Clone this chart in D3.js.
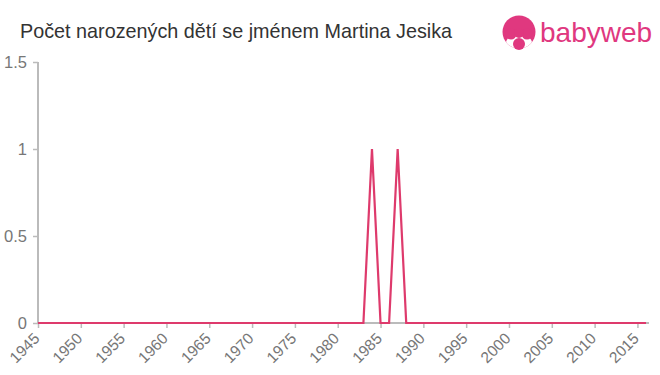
<!DOCTYPE html>
<html>
<head>
<meta charset="utf-8">
<script src="https://cdn.jsdelivr.net/npm/d3@7"></script>
<style>
  body { margin: 0; background: #fff; }
  svg { display: block; font-family: "Liberation Sans", Arial, sans-serif; }
</style>
</head>
<body>
<script>
var svgWidth = 660;
var svgHeight = 375;

// data
var years = d3.range(1945, 2017);
var birthsByYear = { 1984: 1, 1987: 1 };
var counts = years.map(y => birthsByYear[y] || 0);
var xTicks = d3.range(1945, 2016, 5);
var yTicks = [0, 0.5, 1, 1.5];
var yTickLabels = ["0", "0.5", "1", "1.5"];

var data = years.map((y, i) => ({ year: y, value: counts[i] }));

var svg = d3.select("body")
  .append("svg")
  .attr("width", svgWidth)
  .attr("height", svgHeight);

var x = d3.scaleLinear().domain([1945, 2016]).range([38, 646]);
var y = d3.scaleLinear().domain([0, 1.5]).range([323, 62]);

// title
svg.append("text")
  .attr("x", 20)
  .attr("y", 38)
  .style("font-size", "19.8px")
  .style("fill", "#333")
  .text("Počet narozených dětí se jménem Martina Jesika");

// logo
var pink = "#e0387f";
var logo = svg.append("g").attr("transform", "translate(519, 32)");
logo.append("clipPath").attr("id", "head")
  .append("circle").attr("r", 16.5);
logo.append("circle").attr("r", 16.5).attr("fill", pink);
var face = logo.append("g").attr("clip-path", "url(#head)");
face.append("ellipse").attr("cx", 0).attr("cy", 11).attr("rx", 13).attr("ry", 9).attr("fill", "#fff");
face.append("circle").attr("cx", -8).attr("cy", 2).attr("r", 5.5).attr("fill", pink);
face.append("circle").attr("cx", 8).attr("cy", 2).attr("r", 5.5).attr("fill", pink);
face.append("circle").attr("cx", 0).attr("cy", 1).attr("r", 5).attr("fill", pink);
logo.append("circle").attr("cx", 0).attr("cy", 12).attr("r", 6).attr("fill", pink);
logo.append("text")
  .attr("x", 21)
  .attr("y", 10)
  .style("font-size", "28px")
  .style("fill", pink)
  .text("babyweb");

// axes
var axisColor = "#bbb";
var labelColor = "#777";

var leftAxis = d3.axisLeft(y)
  .tickValues(yTicks)
  .tickFormat((d, i) => yTickLabels[i])
  .tickSize(5)
  .tickPadding(6);

var gy = svg.append("g")
  .attr("transform", "translate(38,0)")
  .call(leftAxis);
gy.select(".domain").remove();
gy.append("line")
  .attr("x1", 0).attr("x2", 0)
  .attr("y1", y(1.5)).attr("y2", y(0))
  .attr("stroke", axisColor).attr("stroke-width", 2);
gy.selectAll(".tick line").attr("stroke", axisColor).attr("stroke-width", 1.5);
gy.selectAll(".tick text")
  .style("font-size", "16.5px")
  .style("fill", labelColor)
  .style("font-family", "'Liberation Sans', Arial, sans-serif");

var bottomAxis = d3.axisBottom(x)
  .tickValues(xTicks)
  .tickFormat(d3.format("d"))
  .tickSize(5);

var gx = svg.append("g")
  .attr("transform", "translate(0,323)")
  .call(bottomAxis);
gx.select(".domain").remove();
gx.append("line")
  .attr("x1", 38).attr("x2", 649)
  .attr("y1", 0).attr("y2", 0)
  .attr("stroke", axisColor).attr("stroke-width", 2);
gx.selectAll(".tick line").attr("stroke", axisColor).attr("stroke-width", 1.5);
gx.selectAll(".tick text")
  .style("font-size", "15.5px")
  .style("fill", labelColor)
  .style("font-family", "'Liberation Sans', Arial, sans-serif")
  .attr("text-anchor", "end")
  .attr("y", 0)
  .attr("dy", 0)
  .attr("transform", "translate(2,16.5) rotate(-45)");

// line
var line = d3.line()
  .x(d => x(d.year))
  .y(d => y(d.value));

svg.append("path")
  .datum(data)
  .attr("fill", "none")
  .attr("stroke", "#de3a6c")
  .attr("stroke-width", 2.2)
  .attr("stroke-linejoin", "miter")
  .attr("d", line);
</script>
</body>
</html>
